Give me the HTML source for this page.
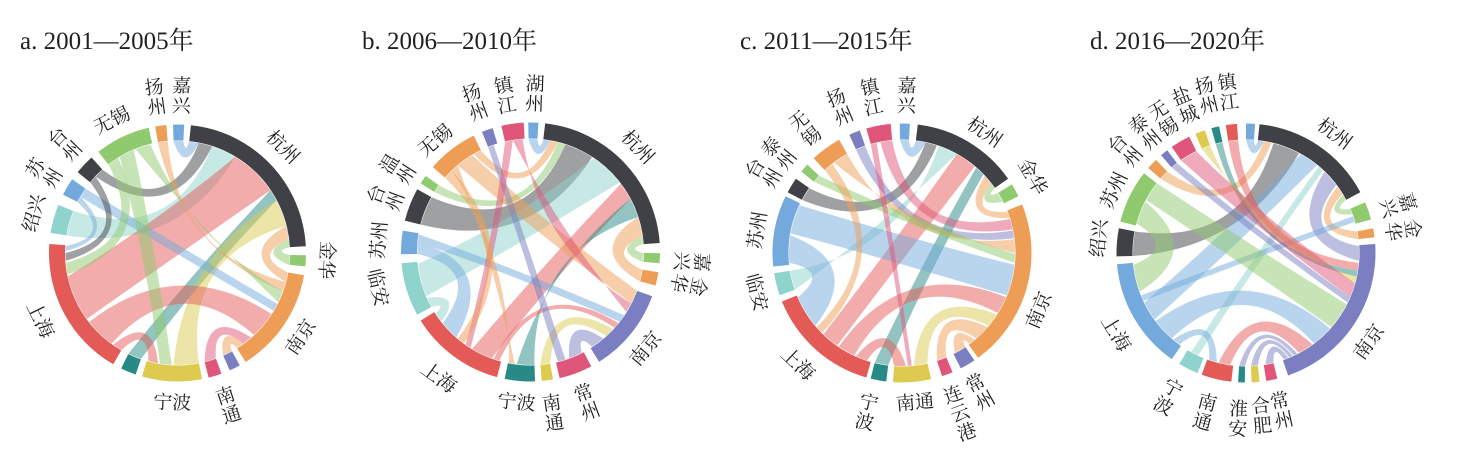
<!DOCTYPE html>
<html><head><meta charset="utf-8">
<style>
html,body{margin:0;padding:0;background:#fff;}
svg{display:block;}
.t{font-family:"Liberation Serif","Noto Serif CJK SC",serif;font-size:25px;fill:#231f20;}
.l{font-family:"Liberation Serif","Noto Serif CJK SC",serif;font-size:19px;fill:#231f20;text-anchor:middle;}
</style></head><body>
<svg id="s" width="1474" height="465" viewBox="0 0 1474 465" xmlns="http://www.w3.org/2000/svg">
<rect width="1474" height="465" fill="#fff"/>
<g id="rib"></g><g id="ring"></g>
<text class="t" x="20" y="49">a. 2001—2005年</text>
<text class="t" x="362" y="49">b. 2006—2010年</text>
<text class="t" x="740" y="49">c. 2011—2015年</text>
<text class="t" x="1090" y="49">d. 2016—2020年</text>
<g id="lab">
<!-- panel a -->
<text class="l" y="7">杭州</text>
<text class="l" y="7">金华</text>
<text class="l" y="7">南京</text>
<text class="l" y="7"><tspan x="0" dy="-10">南</tspan><tspan x="0" dy="20">通</tspan></text>
<text class="l" y="7">宁波</text>
<text class="l" y="7">上海</text>
<text class="l" y="7">绍兴</text>
<text class="l" y="7"><tspan x="0" dy="-10">苏</tspan><tspan x="0" dy="20">州</tspan></text>
<text class="l" y="7"><tspan x="0" dy="-10">台</tspan><tspan x="0" dy="20">州</tspan></text>
<text class="l" y="7">无锡</text>
<text class="l" y="7"><tspan x="0" dy="-10">扬</tspan><tspan x="0" dy="20">州</tspan></text>
<text class="l" y="7"><tspan x="0" dy="-10">嘉</tspan><tspan x="0" dy="20">兴</tspan></text>
<!-- panel b -->
<text class="l" y="7">杭州</text>
<text class="l" y="7"><tspan x="0" dy="-10">嘉</tspan><tspan x="0" dy="20">兴</tspan></text>
<text class="l" y="7"><tspan x="0" dy="-10">金</tspan><tspan x="0" dy="20">华</tspan></text>
<text class="l" y="7">南京</text>
<text class="l" y="7"><tspan x="0" dy="-10">常</tspan><tspan x="0" dy="20">州</tspan></text>
<text class="l" y="7"><tspan x="0" dy="-10">南</tspan><tspan x="0" dy="20">通</tspan></text>
<text class="l" y="7">宁波</text>
<text class="l" y="7">上海</text>
<text class="l" y="7">临安</text>
<text class="l" y="7">苏州</text>
<text class="l" y="7"><tspan x="0" dy="-10">台</tspan><tspan x="0" dy="20">州</tspan></text>
<text class="l" y="7"><tspan x="0" dy="-10">温</tspan><tspan x="0" dy="20">州</tspan></text>
<text class="l" y="7">无锡</text>
<text class="l" y="7"><tspan x="0" dy="-10">扬</tspan><tspan x="0" dy="20">州</tspan></text>
<text class="l" y="7"><tspan x="0" dy="-10">镇</tspan><tspan x="0" dy="20">江</tspan></text>
<text class="l" y="7"><tspan x="0" dy="-10">湖</tspan><tspan x="0" dy="20">州</tspan></text>
<!-- panel c -->
<text class="l" y="7"><tspan x="0" dy="-10">嘉</tspan><tspan x="0" dy="20">兴</tspan></text>
<text class="l" y="7">杭州</text>
<text class="l" y="7">金华</text>
<text class="l" y="7">南京</text>
<text class="l" y="7"><tspan x="0" dy="-10">常</tspan><tspan x="0" dy="20">州</tspan></text>
<text class="l" y="7"><tspan x="0" dy="-20">连</tspan><tspan x="0" dy="20">云</tspan><tspan x="0" dy="20">港</tspan></text>
<text class="l" y="7">南通</text>
<text class="l" y="7"><tspan x="0" dy="-10">宁</tspan><tspan x="0" dy="20">波</tspan></text>
<text class="l" y="7">上海</text>
<text class="l" y="7">临安</text>
<text class="l" y="7">苏州</text>
<text class="l" y="7"><tspan x="0" dy="-10">台</tspan><tspan x="0" dy="20">州</tspan></text>
<text class="l" y="7"><tspan x="0" dy="-10">泰</tspan><tspan x="0" dy="20">州</tspan></text>
<text class="l" y="7"><tspan x="0" dy="-10">无</tspan><tspan x="0" dy="20">锡</tspan></text>
<text class="l" y="7"><tspan x="0" dy="-10">扬</tspan><tspan x="0" dy="20">州</tspan></text>
<text class="l" y="7"><tspan x="0" dy="-10">镇</tspan><tspan x="0" dy="20">江</tspan></text>
<!-- panel d -->
<text class="l" y="7">杭州</text>
<text class="l" y="7"><tspan x="0" dy="-10">嘉</tspan><tspan x="0" dy="20">兴</tspan></text>
<text class="l" y="7"><tspan x="0" dy="-10">金</tspan><tspan x="0" dy="20">华</tspan></text>
<text class="l" y="7">南京</text>
<text class="l" y="7"><tspan x="0" dy="-10">常</tspan><tspan x="0" dy="20">州</tspan></text>
<text class="l" y="7"><tspan x="0" dy="-10">合</tspan><tspan x="0" dy="20">肥</tspan></text>
<text class="l" y="7"><tspan x="0" dy="-10">淮</tspan><tspan x="0" dy="20">安</tspan></text>
<text class="l" y="7"><tspan x="0" dy="-10">南</tspan><tspan x="0" dy="20">通</tspan></text>
<text class="l" y="7"><tspan x="0" dy="-10">宁</tspan><tspan x="0" dy="20">波</tspan></text>
<text class="l" y="7">上海</text>
<text class="l" y="7">绍兴</text>
<text class="l" y="7">苏州</text>
<text class="l" y="7"><tspan x="0" dy="-10">台</tspan><tspan x="0" dy="20">州</tspan></text>
<text class="l" y="7"><tspan x="0" dy="-10">泰</tspan><tspan x="0" dy="20">州</tspan></text>
<text class="l" y="7"><tspan x="0" dy="-10">无</tspan><tspan x="0" dy="20">锡</tspan></text>
<text class="l" y="7"><tspan x="0" dy="-10">盐</tspan><tspan x="0" dy="20">城</tspan></text>
<text class="l" y="7"><tspan x="0" dy="-10">扬</tspan><tspan x="0" dy="20">州</tspan></text>
<text class="l" y="7"><tspan x="0" dy="-10">镇</tspan><tspan x="0" dy="20">江</tspan></text>
</g>
</svg>
<script>
(function(){
var C={DK:'#404146',GR:'#8fca6e',OR:'#ee9d56',PU:'#7b7fc1',PK:'#e0567a',YE:'#dccb4f',TE:'#278a84',RD:'#e35a57',LT:'#8fd3cd',BL:'#73a9dc'};
var P=[
{cx:177.5,cy:253,R:128.5,
segs:[[-2,3,'BL'],[6,87,'DK'],[91,96,'GR'],[100,148,'OR'],[151,156,'PU'],[160,166,'PK'],[169,196,'YE'],[199,206,'TE'],[210,274,'RD'],[279,292,'LT'],[297,305,'BL'],[309,318,'DK'],[322,347,'GR'],[350,355,'OR']],
rib:[[-2,3,6,11,'BL'],[313,318,11,18,'DK'],[279,292,18,31,'LT'],[234,258,31,56,'RD'],[199,206,56,62,'TE'],[169,182,62,76,'YE'],[100,105,76,83,'OR'],[91,96,83,87,'GR'],
[350,355,105,110,'OR'],[338,346,110,116,'GR'],[300,305,117,121,'BL'],[216,232,123,137,'RD'],[160,166,139,144,'PK'],[151,156,144,148,'OR'],
[210,215,190,195,'RD'],[329,337,183,189,'GR'],[322,328,259,265,'GR'],[309,313,266,270,'DK'],[297,300,271,273.5,'BL']]},
{cx:530.5,cy:252,R:129.5,
segs:[[-1,3.5,'BL'],[6.5,86,'DK'],[90.5,95,'GR'],[99,105,'OR'],[110,148,'PU'],[152,167,'PK'],[170,175,'YE'],[178,191.5,'TE'],[195,238,'RD'],[241,265,'LT'],[269,279.5,'BL'],[284,299,'DK'],[302,306,'GR'],[311,334,'OR'],[338,343,'PU'],[347,357,'PK']],
rib:[[-1,3.5,6.5,10,'BL'],[330,334,10,14,'OR'],[302,306,14,18,'GR'],[284,299,18,33,'DK'],[247,264,34,52,'LT'],[200,211,53,62,'RD'],[178,187,62,72,'TE'],[99,105,72,82,'OR'],[90.5,95,82,86,'GR'],
[320,329,110,117,'OR'],[351,356,117,122,'PK'],[275,279,124,128,'BL'],[196,199,129,132,'RD'],[170,175,133,138,'YE'],[153,160,140,147,'PU'],[338,341,162,166,'PU'],
[347,351,212,215,'PK'],[311,316,216,220,'OR'],[316,320,188,191,'OR'],[269,275,221,231,'BL'],[241,246,232,237,'LT']]},
{cx:902,cy:253,R:129.5,
segs:[[-1,3.5,'BL'],[7,55,'DK'],[58,64,'GR'],[68,144,'OR'],[146,153,'PU'],[157,162,'PK'],[167,184,'YE'],[187,194,'TE'],[196,248,'RD'],[251,261,'LT'],[264,296,'BL'],[298,305,'DK'],[309,313,'GR'],[317,331,'OR'],[336,341,'PU'],[344,355,'PK']],
rib:[[-1,3.5,7,12,'BL'],[298,305,12,18,'DK'],[251,261,19,29,'LT'],[215,224,29,40,'RD'],[187,194,41,46,'TE'],[47,52,68.5,72,'OR'],[58,63,52,55,'GR'],
[349,355,72.5,78,'PK'],[336,341,78.5,82.5,'PU'],[323,331,83,90,'OR'],[309,313,90.5,95,'GR'],[280,295,96,112,'BL'],[205,214,113,122,'RD'],[167,174,123,130,'YE'],[157,162,131,139,'OR'],[146,152,140,143.5,'OR'],
[344,347,175,177,'PK'],[198,204,178,184,'RD'],[317,322,225,229,'OR'],[265,279,230,247,'BL']]},
{cx:1246,cy:253,R:129.5,
segs:[[0,4,'BL'],[6,62,'DK'],[67,75,'GR'],[79,83,'OR'],[86,161,'PU'],[166,171,'PK'],[174,177.5,'YE'],[180.5,183.5,'TE'],[186.5,200,'RD'],[202,211,'LT'],[215,265,'BL'],[268.5,281,'DK'],[284,308,'GR'],[311,316,'OR'],[319,322.5,'PU'],[325,334,'PK'],[337,341.5,'YE'],[344.5,348,'TE'],[351,356,'RD']],
rib:[[0,4,6,9,'BL'],[311,316,9,13,'OR'],[268.5,281,14,28,'DK'],[234,244,29,39,'BL'],[205,209,40,43,'LT'],[44,53,86.5,94,'PU'],[54,58.5,79,83,'OR'],[59,62,67,70,'GR'],[71,74,245,248,'BL'],
[351,356,95,99,'RD'],[344.5,348,99,102,'TE'],[337,341.5,102,105.5,'YE'],[325,334,105.5,113,'PK'],[319,322.5,113,116,'PU'],[298,308,117,131,'GR'],[221,233,132,143,'BL'],[188,194,144,152,'RD'],
[180.5,183.5,153,155,'PU'],[174,177.5,155.5,157.5,'PU'],[166,170,158,160.5,'PU'],[216,220,195,199,'BL'],[285,297,250,264,'GR']]}
];
function pt(cx,cy,r,a){var t=a*Math.PI/180;return [cx+r*Math.sin(t),cy-r*Math.cos(t)];}
function f(p){return p[0].toFixed(2)+','+p[1].toFixed(2);}
function gf(D){
  if(D<=110) return 0.5*Math.pow(D/110,0.6);
  if(D<=118) return 0.5;
  if(D<=132) return 0.5-(D-118)/14*0.42;
  return 0.08;
}
var NS='http://www.w3.org/2000/svg';
var gR=document.getElementById('rib'), gG=document.getElementById('ring');
function mk(parent,d,fill,op){var e=document.createElementNS(NS,'path');e.setAttribute('d',d);e.setAttribute('fill',fill);if(op)e.setAttribute('fill-opacity',op);parent.appendChild(e);}
P.forEach(function(p){
  var ro=p.R, ri=p.R-16, rr=p.R-16.5;
  p.segs.forEach(function(s){
    var a0=s[0],a1=s[1],L=(a1-a0)>180?1:0;
    var d='M'+f(pt(p.cx,p.cy,ro,a0))+'A'+ro+','+ro+' 0 '+L+' 1 '+f(pt(p.cx,p.cy,ro,a1))+
      'L'+f(pt(p.cx,p.cy,ri,a1))+'A'+ri+','+ri+' 0 '+L+' 0 '+f(pt(p.cx,p.cy,ri,a0))+'Z';
    mk(gG,d,C[s[2]]);
  });
  function q(a,b){
    var D=Math.abs(a-b)%360; if(D>180)D=360-D;
    var A=pt(0,0,rr,a),B=pt(0,0,rr,b),k=1-2*gf(D);
    return 'Q'+f([p.cx+(A[0]+B[0])/2*k,p.cy+(A[1]+B[1])/2*k])+' '+f(pt(p.cx,p.cy,rr,b));
  }
  function la(x,y){return (y-x)>180?1:0;}
  p.rib.forEach(function(r){
    var s0=r[0],s1=r[1],t0=r[2],t1=r[3];
    var d='M'+f(pt(p.cx,p.cy,rr,s0))+'A'+rr+','+rr+' 0 '+la(s0,s1)+' 1 '+f(pt(p.cx,p.cy,rr,s1))+
      q(s1,t0)+'A'+rr+','+rr+' 0 '+la(t0,t1)+' 1 '+f(pt(p.cx,p.cy,rr,t1))+q(t1,s0)+'Z';
    mk(gR,d,C[r[4]],'0.5');
  });
});
var LB=[
[0,44.9,150],[0,92.7,150],[0,124.3,148.5],[0,161.5,160],[0,182,149],[0,244,152],[0,285.5,149.5],[0,301,156],[0,314,157],[0,333.6,148.5],[0,352,158],[0,1.5,158],
[1,45.7,150.7],[1,93.4,162],[1,101.7,162],[1,130,149.6],[1,159.4,160],[1,172,162],[1,185.3,150.3],[1,216.1,155],[1,256.9,156],[1,274.5,152.7],[1,290.5,155],[1,302,157],[1,319.5,147.2],[1,339.7,160],[1,350.8,159],[1,1.6,158.8],
[2,1.7,158],[2,34.4,147],[2,59.7,152],[2,112.7,147.7],[2,150.6,159],[2,160.1,170],[2,175,149.3],[2,192.5,162.6],[2,223.2,151.4],[2,254.8,150],[2,279,147.1],[2,300,160],[2,309,158.9],[2,322.1,158],[2,337,158.9],[2,349,159.2],
[3,36.6,149.2],[3,72.5,159.7],[3,81.7,159],[3,125.9,151],[3,167.2,161],[3,174.5,162.8],[3,182.7,165.5],[3,194.5,163.9],[3,208.4,163.3],[3,238.2,152.2],[3,275.7,148.4],[3,295.4,146.9],[3,310.4,159],[3,320.2,157.9],[3,328.5,158],[3,337.6,160],[3,346,162.8],[3,353.7,162.3]
];
var ts=document.querySelectorAll('#lab text');
for(var i=0;i<ts.length&&i<LB.length;i++){
  var p=P[LB[i][0]],a=LB[i][1],d=LB[i][2];
  var c=pt(p.cx,p.cy,d,a);
  var an=((a%360)+360)%360;
  var rot=(an>106&&an<262)?an-180:(an>180?an-360:an);
  ts[i].setAttribute('transform','translate('+c[0].toFixed(1)+','+c[1].toFixed(1)+') rotate('+rot.toFixed(1)+')');
}
})();
</script>
</body></html>
